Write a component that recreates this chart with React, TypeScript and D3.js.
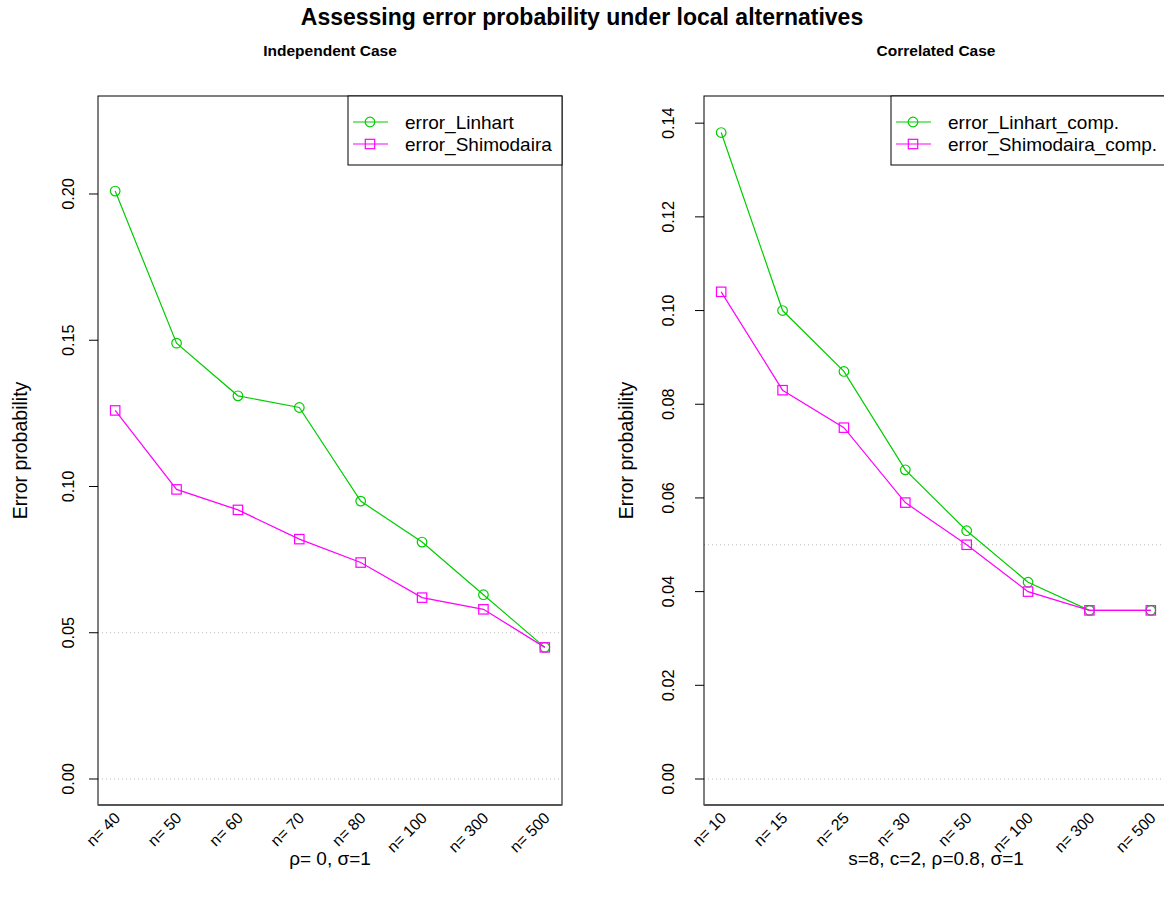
import React from "react";
import * as d3 from "d3";

const leftCats = ["n= 40", "n= 50", "n= 60", "n= 70", "n= 80", "n= 100", "n= 300", "n= 500"];
const leftLinhart = [0.201, 0.149, 0.131, 0.127, 0.095, 0.081, 0.063, 0.045];
const leftShimodaira = [0.126, 0.099, 0.092, 0.082, 0.074, 0.062, 0.058, 0.045];
const leftTicks = [0.0, 0.05, 0.1, 0.15, 0.2];

const rightCats = ["n= 10", "n= 15", "n= 25", "n= 30", "n= 50", "n= 100", "n= 300", "n= 500"];
const rightLinhart = [0.138, 0.1, 0.087, 0.066, 0.053, 0.042, 0.036, 0.036];
const rightShimodaira = [0.104, 0.083, 0.075, 0.059, 0.05, 0.04, 0.036, 0.036];
const rightTicks = [0.0, 0.02, 0.04, 0.06, 0.08, 0.1, 0.12, 0.14];

const refLines = [0.0, 0.05];

const GREEN = "#00CD00";
const MAGENTA = "#FF00FF";
const FONT = "'Liberation Sans', Arial, Helvetica, sans-serif";
const FS = 19;
const TICK_FS = 16.3;
const XTICK_FS = 15.8;

type PanelProps = {
  x0: number;
  cats: string[];
  s1: number[];
  s2: number[];
  ticks: number[];
  yDomain: [number, number];
  title: string;
  sub: string;
  legend: string[];
  legendX: number;
  legendW: number;
  tickOff: number;
  tickFmt: (v: number) => string;
};

function Panel(p: PanelProps) {
  const top = 96;
  const bottom = 805;
  const width = 464;
  const x = d3.scaleLinear().domain([0.72, 8.28]).range([p.x0, p.x0 + width]);
  const y = d3.scaleLinear().domain(p.yDomain).range([bottom, top]);
  const line = d3
    .line<number>()
    .x((_, i) => x(i + 1))
    .y((d) => y(d));
  const cx = p.x0 + width / 2;
  return (
    <g fontFamily={FONT}>
      <text x={cx} y={56} textAnchor="middle" fontSize={15.5} fontWeight="bold">
        {p.title}
      </text>
      {refLines.map((r) => (
        <line
          key={r}
          x1={p.x0}
          x2={p.x0 + width}
          y1={y(r)}
          y2={y(r)}
          stroke="#bbbbbb"
          strokeDasharray="1,3"
        />
      ))}
      <path d={line(p.s1) || ""} fill="none" stroke={GREEN} strokeWidth={1.2} />
      <path d={line(p.s2) || ""} fill="none" stroke={MAGENTA} strokeWidth={1.2} />
      {p.s1.map((v, i) => (
        <circle key={"c" + i} cx={x(i + 1)} cy={y(v)} r={4.8} fill="none" stroke={GREEN} strokeWidth={1.2} />
      ))}
      {p.s2.map((v, i) => (
        <rect
          key={"r" + i}
          x={x(i + 1) - 4.7}
          y={y(v) - 4.7}
          width={9.4}
          height={9.4}
          fill="none"
          stroke={MAGENTA}
          strokeWidth={1.2}
        />
      ))}
      <rect x={p.x0} y={top} width={width} height={bottom - top} fill="none" stroke="#000" strokeWidth={1} />
      <line x1={p.x0} x2={p.x0 + width} y1={bottom} y2={bottom} stroke="#555" strokeWidth={2} />
      {p.ticks.map((t) => (
        <g key={t}>
          <line x1={p.x0 - 9} x2={p.x0} y1={y(t)} y2={y(t)} stroke="#000" />
          <text
            transform={`translate(${p.x0 - p.tickOff},${y(t)}) rotate(-90)`}
            textAnchor="middle"
            fontSize={TICK_FS}
          >
            {p.tickFmt(t)}
          </text>
        </g>
      ))}
      {p.cats.map((c, i) => (
        <text
          key={c}
          transform={`translate(${x(i + 1) + 6},${bottom + 14}) rotate(-45)`}
          textAnchor="end"
          fontSize={XTICK_FS}
        >
          {c}
        </text>
      ))}
      <text
        transform={`translate(${p.x0 - 71},${(top + bottom) / 2}) rotate(-90)`}
        textAnchor="middle"
        fontSize={19.5}
      >
        Error probability
      </text>
      <text x={cx} y={865} textAnchor="middle" fontSize={FS}>
        {p.sub}
      </text>
      <rect x={p.legendX} y={top} width={p.legendW} height={69} fill="#fff" stroke="#000" />
      {p.legend.map((l, i) => {
        const ly = 122 + i * 22;
        const col = i === 0 ? GREEN : MAGENTA;
        return (
          <g key={l}>
            <line x1={p.legendX + 5} x2={p.legendX + 40} y1={ly} y2={ly} stroke={col} strokeWidth={1.2} />
            {i === 0 ? (
              <circle cx={p.legendX + 22} cy={ly} r={4.8} fill="none" stroke={col} strokeWidth={1.2} />
            ) : (
              <rect x={p.legendX + 17.3} y={ly - 4.7} width={9.4} height={9.4} fill="none" stroke={col} strokeWidth={1.2} />
            )}
            <text x={p.legendX + 57} y={ly + 7} fontSize={FS}>
              {l}
            </text>
          </g>
        );
      })}
    </g>
  );
}

export default function App() {
  const fmt2 = d3.format(".2f");
  return (
    <svg width={1164} height={899} style={{ position: "absolute", left: 0, top: 0, background: "#fff" }}>
      <rect width={1164} height={899} fill="#fff" />
      <text x={582} y={25} textAnchor="middle" fontSize={23} fontWeight="bold" fontFamily={FONT}>
        Assessing error probability under local alternatives
      </text>
      <Panel
        x0={98}
        cats={leftCats}
        s1={leftLinhart}
        s2={leftShimodaira}
        ticks={leftTicks}
        yDomain={[-0.00889, 0.2335]}
        title="Independent Case"
        sub="ρ= 0, σ=1"
        legend={["error_Linhart", "error_Shimodaira"]}
        legendX={348}
        legendW={214}
        tickOff={24}
        tickFmt={fmt2}
      />
      <Panel
        x0={704}
        cats={rightCats}
        s1={rightLinhart}
        s2={rightShimodaira}
        ticks={rightTicks}
        yDomain={[-0.00555, 0.1458]}
        title="Correlated Case"
        sub="s=8, c=2, ρ=0.8, σ=1"
        legend={["error_Linhart_comp.", "error_Shimodaira_comp."]}
        legendX={891}
        legendW={290}
        tickOff={30}
        tickFmt={fmt2}
      />
    </svg>
  );
}
